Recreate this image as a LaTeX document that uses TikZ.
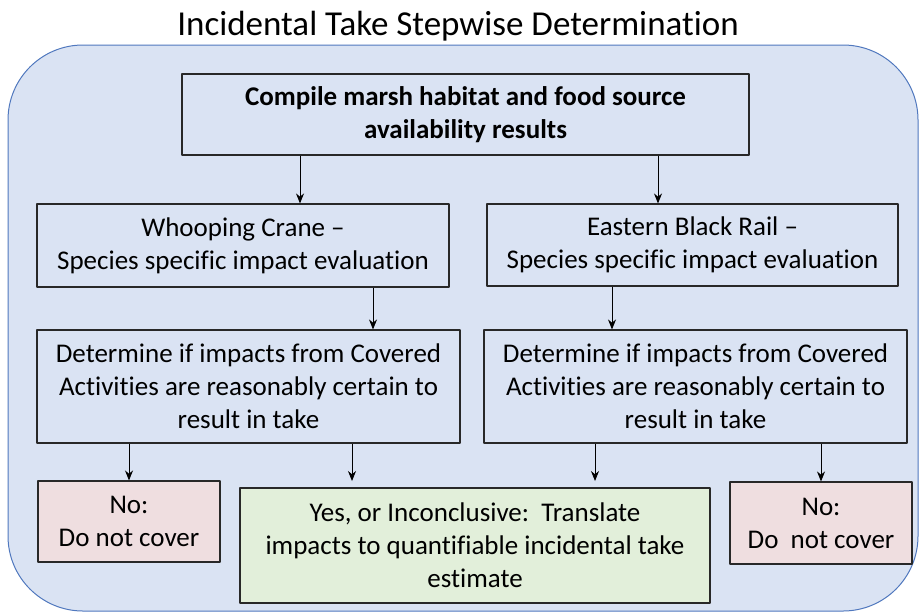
\documentclass[tikz,border=0pt]{standalone}
\usepackage{fontspec}
\setmainfont{Carlito}[Ligatures=CommonOff]
\usetikzlibrary{arrows.meta}
\definecolor{panelblue}{RGB}{218,227,243}
\definecolor{panelline}{RGB}{80,120,190}
\definecolor{nopink}{RGB}{239,222,224}
\definecolor{yesgreen}{RGB}{226,239,218}
\definecolor{boxline}{RGB}{40,40,40}
\tikzset{
  stepbox/.style={draw=boxline,line width=1.1pt,align=center,inner sep=0pt,
    font=\fontsize{27}{33}\selectfont},
  flow/.style={-{Stealth[length=10pt,width=8pt]},line width=0.9pt}
}
\begin{document}
\begin{tikzpicture}[x=1pt,y=-1pt,line join=round]
	\useasboundingbox (0,0) rectangle (920,614);
	% panel
	\draw[panelline,fill=panelblue,line width=1pt,rounded corners=75pt] (8,45) rectangle (918,611);
	\node (title) at (458,26) {\fontsize{35}{40}\selectfont Incidental Take Stepwise Determination};
	% boxes
	\node[stepbox,minimum width=567pt,minimum height=81pt] (compile) at (465.5,114.5)
		{\bfseries Compile marsh habitat and food source\\ \bfseries availability results};
	\node[stepbox,minimum width=412pt,minimum height=83pt] (crane) at (243,245.5)
		{Whooping Crane --\\ Species specific impact evaluation};
	\node[stepbox,minimum width=411pt,minimum height=82pt] (rail) at (692.5,245)
		{Eastern Black Rail --\\ Species specific impact evaluation};
	\node[stepbox,minimum width=423pt,minimum height=113pt] (detcrane) at (248.5,386.5)
		{Determine if impacts from Covered\\ Activities are reasonably certain to\\ result in take};
	\node[stepbox,minimum width=423pt,minimum height=113pt] (detrail) at (695.5,386.5)
		{Determine if impacts from Covered\\ Activities are reasonably certain to\\ result in take};
	\node[stepbox,fill=nopink,minimum width=182pt,minimum height=81pt] (nocrane) at (129,521.5)
		{No:\\ Do not cover};
	\node[stepbox,fill=yesgreen,minimum width=470pt,minimum height=115pt] (yes) at (475,545.5)
		{Yes, or Inconclusive:\ \ Translate\\ impacts to quantifiable incidental take\\ estimate};
	\node[stepbox,fill=nopink,minimum width=182pt,minimum height=82pt] (norail) at (821,523)
		{No:\\ Do\ \ not cover};
	% arrows
	\draw[flow] (compile.south -| 300,0) -- (crane.north -| 300,0);
	\draw[flow] (compile.south -| 658,0) -- (rail.north -| 658,0);
	\draw[flow] (crane.south -| 373,0) -- (detcrane.north -| 373,0);
	\draw[flow] (rail.south -| 612,0) -- (detrail.north -| 612,0);
	\draw[flow] (detcrane.south -| nocrane.north) -- (nocrane.north);
	\draw[flow] (detcrane.south -| 352,0) -- (352,481);
	\draw[flow] (detrail.south -| 595,0) -- (595,481);
	\draw[flow] (detrail.south -| norail.north) -- (norail.north);
\end{tikzpicture}
\end{document}
